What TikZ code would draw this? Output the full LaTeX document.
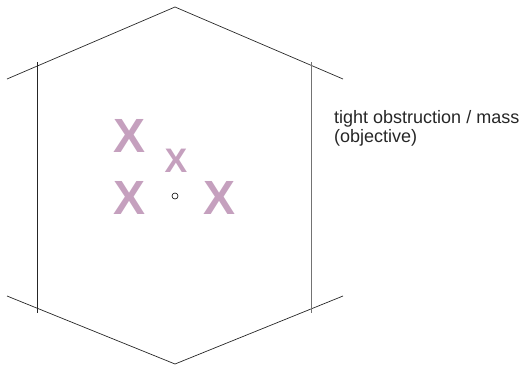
\documentclass[tikz,border=0pt]{standalone}
\usepackage{fontspec}
\setmainfont{Liberation Sans}
\definecolor{mauve}{RGB}{197,160,190}
\tikzset{
  wall/.style={line width=0.7pt,black!85},
  mark X/.style={text=mauve,font=\fontsize{48}{48}\selectfont\bfseries,inner sep=0pt},
  mark x/.style={text=mauve,font=\fontsize{34}{34}\selectfont\bfseries,inner sep=0pt}
}
\begin{document}
\begin{tikzpicture}[x=1pt,y=-1pt]
  \useasboundingbox (0,0) rectangle (526,367);
  \draw[wall] (7,79)--(175,7)--(343,79);
  \draw[wall] (7,296)--(175,364)--(343,296);
  \draw[wall] (37,62)--(37,313);
  \draw[wall,black!55] (311,62)--(311,313);
  \node[mark X] (xa) at (130,136) {X};
  \node[mark X] (xb) at (130,198) {X};
  \node[mark X] (xc) at (220,198) {X};
  \node[mark x] (xd) at (176,161) {X};
  \draw[line width=0.6pt] (175,196) circle (3);
  \node[anchor=base west,inner sep=0pt,align=left,font=\fontsize{18}{19.5}\selectfont,black!85] (label) at (334,142.5) {tight obstruction / mass\\(objective)};
\end{tikzpicture}
\end{document}
